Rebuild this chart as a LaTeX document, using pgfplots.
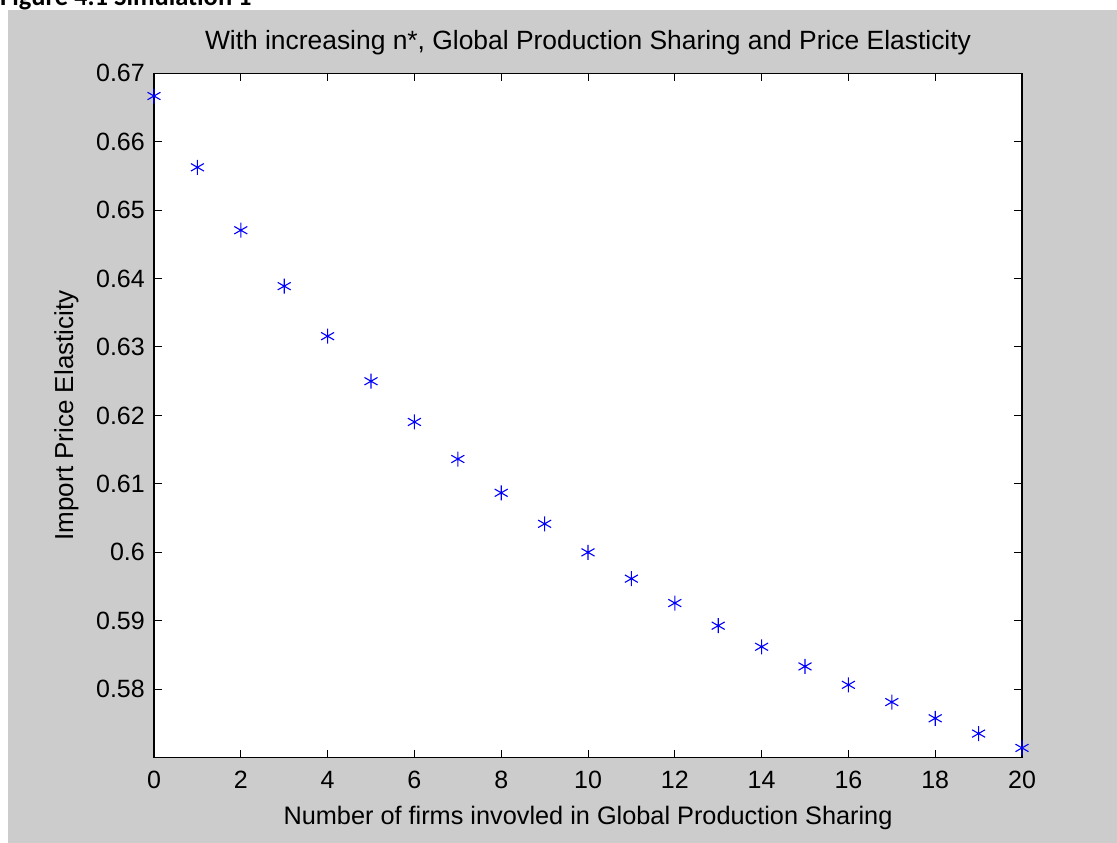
\documentclass[border=0pt]{standalone}
\usepackage{fontspec}
\setmainfont{Liberation Sans}
\newfontfamily\carlito{Carlito}
\usepackage{pgfplots}
\pgfplotsset{compat=1.18}
\definecolor{figgray}{RGB}{204,204,204}
\definecolor{mblue}{RGB}{0,0,255}
\begin{document}
\begin{tikzpicture}
\useasboundingbox (0,0) rectangle (1117pt,843pt);
\fill[white] (0,0) rectangle (1117pt,843pt);
\fill[figgray] (8pt,0) rectangle (1117pt,833pt);
\node[anchor=base west, inner sep=0pt] at (0pt,837pt) {\carlito\bfseries\fontsize{26.5}{30}\selectfont Figure 4.1 Simulation 1};
\begin{axis}[
  at={(154pt,85.3pt)}, anchor=south west,
  scale only axis, width=868pt, height=684.5pt,
  xmin=0, xmax=20, ymin=0.57, ymax=0.67,
  xtick={0,2,...,20},
  ytick={0.58,0.59,0.6,0.61,0.62,0.63,0.64,0.65,0.66,0.67},
  tick align=inside, major tick length=8pt,
  xtick pos=both, ytick pos=both,
  tick style={black, line width=1pt},
  axis line style={black, line width=1.3pt},
  axis background/.style={fill=white},
  clip=false,
  /pgf/number format/assume math mode=true,
  /pgf/number format/fixed,
  /pgf/number format/precision=2,
  xticklabel style={inner sep=0pt, anchor=north, yshift=-13pt, font=\fontsize{25}{29}\selectfont},
  yticklabel style={inner sep=0pt, anchor=east, xshift=-9pt, font=\fontsize{25}{29}\selectfont},
  title={With increasing n*, Global Production Sharing and Price Elasticity},
  title style={at={(axis description cs:0.5,1.0263)}, anchor=base, inner sep=0pt, font=\fontsize{26.4}{30}\selectfont},
  xlabel={Number of firms invovled in Global Production Sharing},
  xlabel style={at={(axis description cs:0.5,-0.0969)}, anchor=base, inner sep=0pt, font=\fontsize{25.3}{29}\selectfont},
  ylabel={Import Price Elasticity},
  ylabel style={at={(axis description cs:-0.0933,0.5)}, anchor=base, inner sep=0pt, font=\fontsize{26}{30}\selectfont},
]
\addplot[only marks, mark=asterisk, mark size=7.5pt, mblue, mark options={line width=1.1pt}] coordinates {
(0,0.666667) (1,0.65625) (2,0.647059) (3,0.638889) (4,0.631579)
(5,0.625) (6,0.619048) (7,0.613636) (8,0.608696) (9,0.604167)
(10,0.6) (11,0.596154) (12,0.592593) (13,0.589286) (14,0.586207)
(15,0.583333) (16,0.580645) (17,0.578125) (18,0.575758) (19,0.573529)
(20,0.571429)
};
\end{axis}
\end{tikzpicture}
\end{document}
